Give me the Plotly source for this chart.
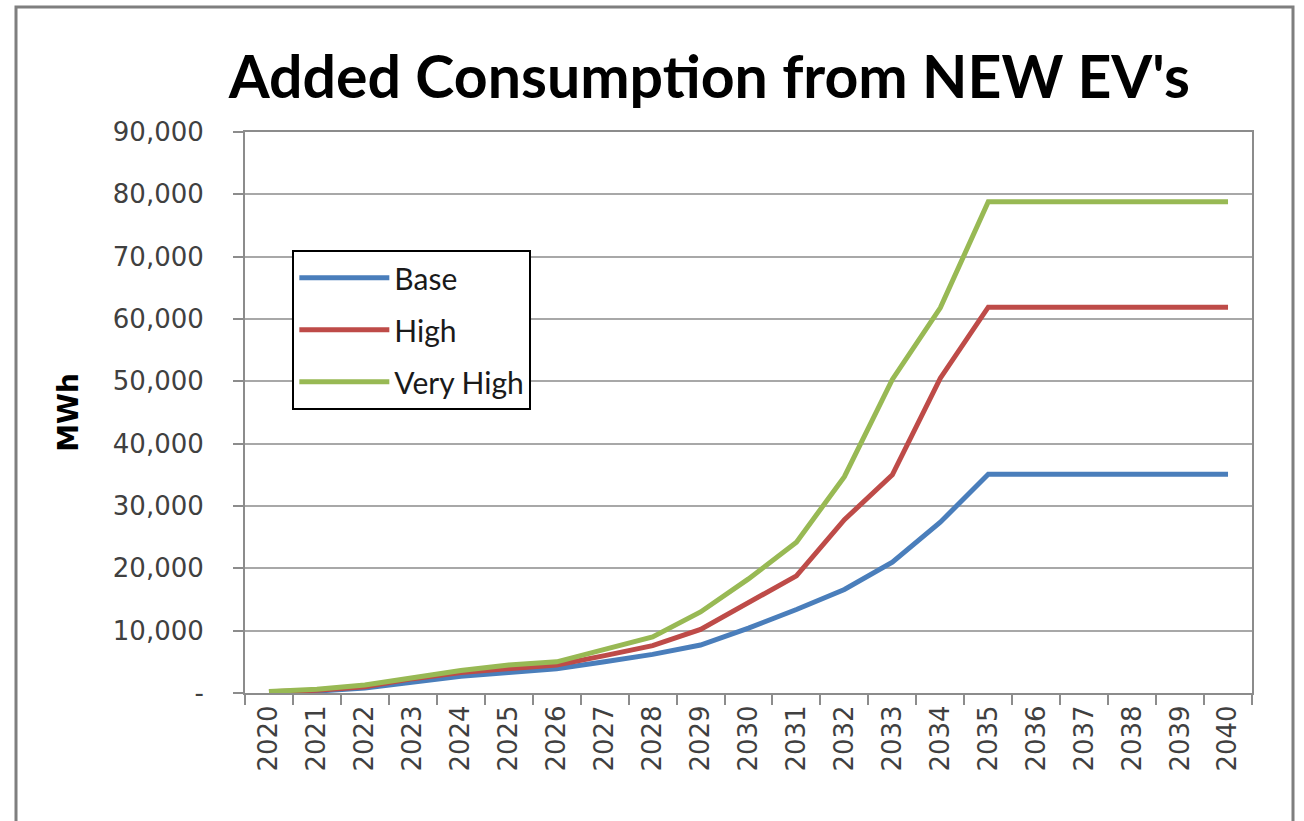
import plotly.graph_objects as go

# Years on the category axis
years = [str(y) for y in range(2020, 2041)]

# Added consumption (MWh) per scenario
base = [150, 300, 800, 1800, 2700, 3300, 3900, 5000, 6200, 7700, 10400, 13400,
        16600, 21000, 27400, 35100, 35100, 35100, 35100, 35100, 35100]
high = [200, 450, 1000, 2300, 3300, 4000, 4500, 6000, 7600, 10200, 14500, 18800,
        27800, 35000, 50500, 61900, 61900, 61900, 61900, 61900, 61900]
very_high = [250, 600, 1300, 2500, 3600, 4500, 5000, 7000, 9000, 13000, 18300, 24200,
             34700, 50300, 61800, 78800, 78800, 78800, 78800, 78800, 78800]

series_names = ["Base", "High", "Very High"]
series_colors = ["#4a7ebb", "#be4b48", "#98b954"]

y_ticks = [0, 10000, 20000, 30000, 40000, 50000, 60000, 70000, 80000, 90000]
y_tick_text = ["-" if v == 0 else f"{v:,}" for v in y_ticks]

fig = go.Figure()
for name, vals, color in zip(series_names, [base, high, very_high], series_colors):
    fig.add_trace(go.Scatter(
        x=years, y=vals, name=name, mode="lines", legendgroup=name,
        line=dict(color=color, width=5),
    ))

grid_color = "#a8a8a8"
axis_color = "#8c8c8c"
tick_font = dict(family="DejaVu Sans", size=26, color="#404040")

fig.update_layout(
    width=1304, height=821,
    margin=dict(l=245, r=52, t=132, b=128),
    paper_bgcolor="white", plot_bgcolor="white",
    title=dict(
        text="<b>Added Consumption from NEW EV's</b>",
        x=0.544, xanchor="center", y=1 - 77 / 821, yanchor="middle",
        xref="container", yref="container",
        font=dict(family="Lato", size=59, color="black"),
    ),
    xaxis=dict(
        type="category", range=[-0.5, len(years) - 0.5],
        tickangle=-90, tickfont=tick_font,
        ticks="outside", ticklen=10, tickwidth=2, tickcolor=axis_color,
        tickson="boundaries", showgrid=False,
        showline=True, linecolor=axis_color, linewidth=2, mirror=True,
    ),
    yaxis=dict(
        range=[0, 90000], tickvals=y_ticks, ticktext=y_tick_text,
        tickfont=tick_font, ticks="outside", ticklen=10, tickwidth=2,
        tickcolor=axis_color, ticklabelstandoff=24,
        showgrid=True, gridcolor=grid_color, gridwidth=2, zeroline=False,
        showline=True, linecolor=axis_color, linewidth=2, mirror=True,
        title=dict(text="<b>MWh</b>", standoff=26,
                   font=dict(family="DejaVu Sans", size=28, color="black")),
    ),
    legend=dict(
        x=0.047, y=0.79, xanchor="left", yanchor="top",
        bgcolor="white", bordercolor="black", borderwidth=2,
        font=dict(family="Lato", size=30, color="#1a1a1a"),
        tracegroupgap=10, itemwidth=90,
        entrywidth=170, entrywidthmode="pixels",
    ),
    shapes=[dict(
        type="rect", xref="paper", yref="paper",
        x0=(16 - 245) / 1007, x1=(1293 - 245) / 1007,
        y0=(693 - 830) / 561, y1=(693 - 7) / 561,
        line=dict(color="#7f7f7f", width=3), layer="below",
    )],
)

fig.write_html("out.html")
